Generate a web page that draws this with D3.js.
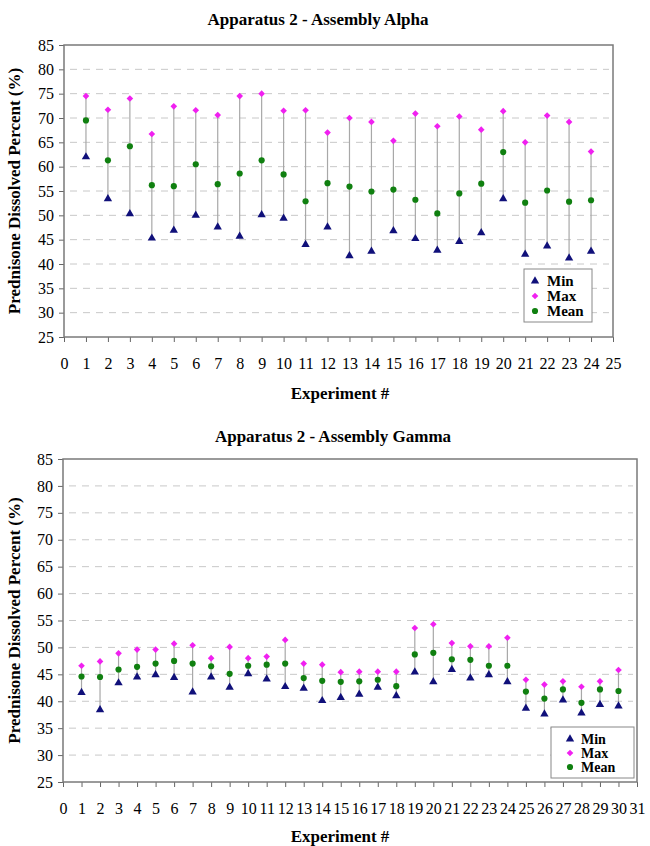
<!DOCTYPE html>
<html>
<head>
<meta charset="utf-8">
<script src="https://cdn.jsdelivr.net/npm/d3@7"></script>
<style>
  html, body { margin: 0; padding: 0; background: #fff; }
  svg { display: block; }
  svg text { font-family: "Liberation Serif", "DejaVu Serif", serif !important; fill: #000; }
</style>
</head>
<body>
<svg id="chart" width="650" height="846"></svg>
<script>
// ---------- data ----------
const yTicks = [25, 30, 35, 40, 45, 50, 55, 60, 65, 70, 75, 80, 85];
const seriesNames = ["Min", "Max", "Mean"];

const alphaTitle = "Apparatus 2 - Assembly Alpha";
const alphaExperiments = d3.range(1, 25);
const alphaXTicks = d3.range(0, 26);
const alphaMin  = [62.0, 53.4, 50.3, 45.3, 46.9, 50.0, 47.6, 45.7, 50.1, 49.4, 44.0, 47.6, 41.7, 42.6, 46.8, 45.2, 42.8, 44.6, 46.4, 53.4, 42.0, 43.7, 41.2, 42.6];
const alphaMax  = [74.5, 71.7, 74.0, 66.7, 72.4, 71.6, 70.6, 74.5, 75.0, 71.5, 71.6, 67.0, 70.0, 69.2, 65.3, 70.9, 68.3, 70.3, 67.6, 71.4, 65.0, 70.5, 69.2, 63.1];
const alphaMean = [69.5, 61.3, 64.2, 56.2, 56.0, 60.5, 56.4, 58.6, 61.3, 58.4, 52.9, 56.6, 55.9, 54.9, 55.3, 53.2, 50.4, 54.5, 56.5, 63.0, 52.6, 55.1, 52.8, 53.1];

const gammaTitle = "Apparatus 2 - Assembly Gamma";
const gammaExperiments = d3.range(1, 31);
const gammaXTicks = d3.range(0, 32);
const gammaMin  = [41.6, 38.4, 43.4, 44.5, 44.9, 44.4, 41.7, 44.5, 42.6, 45.1, 44.1, 42.7, 42.4, 40.1, 40.7, 41.3, 42.6, 41.0, 45.4, 43.6, 45.9, 44.3, 44.9, 43.6, 38.7, 37.6, 40.2, 37.8, 39.4, 39.1];
const gammaMax  = [46.6, 47.4, 48.9, 49.6, 49.6, 50.7, 50.4, 48.0, 50.1, 48.0, 48.3, 51.4, 47.0, 46.8, 45.4, 45.5, 45.5, 45.5, 53.6, 54.3, 50.8, 50.2, 50.2, 51.8, 44.0, 43.1, 43.7, 42.7, 43.7, 45.8];
const gammaMean = [44.6, 44.5, 45.9, 46.4, 47.0, 47.5, 47.0, 46.5, 45.1, 46.6, 46.8, 47.0, 44.3, 43.8, 43.6, 43.7, 44.0, 42.8, 48.7, 49.0, 47.8, 47.7, 46.6, 46.6, 41.8, 40.5, 42.2, 39.7, 42.2, 41.9];

const yLabel = "Prednisone Dissolved Percent (%)";
const xLabel = "Experiment #";

// ---------- styles ----------
const FONT = '"Liberation Serif", "DejaVu Serif", serif';
const colors = { Min: "#10107a", Max: "#f020f0", Mean: "#108010" };
const symbols = {
  Min: d3.symbol().type(d3.symbolTriangle).size(30),
  Max: d3.symbol().type(d3.symbolDiamond2).size(28),
  Mean: d3.symbol().type(d3.symbolCircle).size(30)
};

const svg = d3.select("#chart");

function drawChart(cfg) {
  const { title, experiments, xTicks, mins, maxs, means, box, titlePos, legend } = cfg;
  const g = svg.append("g").attr("font-family", FONT);
  const x = d3.scaleLinear().domain([0, xTicks[xTicks.length - 1]]).range([box.left, box.right]);
  const y = d3.scaleLinear().domain([25, 85]).range([box.bottom, box.top]);

  // title
  g.append("text").attr("x", titlePos[0]).attr("y", titlePos[1])
    .attr("text-anchor", "middle").attr("font-weight", "bold").attr("font-size", 17)
    .text(title);

  // gridlines
  g.append("g").selectAll("line").data(yTicks.filter(t => t !== 25 && t !== 85)).join("line")
    .attr("x1", box.left + 6).attr("x2", box.right - 4)
    .attr("y1", d => y(d)).attr("y2", d => y(d))
    .attr("stroke", "#c8c8c8").attr("stroke-width", 1).attr("stroke-dasharray", "7,6");

  // axes
  const yAxis = d3.axisLeft(y).tickValues(yTicks).tickSize(5).tickPadding(5);
  const ya = g.append("g").attr("transform", `translate(${box.left},0)`).call(yAxis);
  ya.attr("font-family", FONT);
  ya.select(".domain").remove();
  ya.selectAll(".tick line").attr("stroke", "#666");
  ya.selectAll(".tick text").attr("font-size", 16);

  const xAxis = d3.axisBottom(x).tickValues(xTicks).tickSize(5).tickPadding(16);
  const xa = g.append("g").attr("transform", `translate(0,${box.bottom})`).call(xAxis);
  xa.attr("font-family", FONT);
  xa.select(".domain").remove();
  xa.selectAll(".tick line").attr("stroke", "#666");
  xa.selectAll(".tick text").attr("font-size", 16);

  // plot border
  g.append("rect").attr("x", box.left).attr("y", box.top)
    .attr("width", box.right - box.left).attr("height", box.bottom - box.top)
    .attr("fill", "none").attr("stroke", "#7a7a7a").attr("stroke-width", 1.5);

  // axis titles
  g.append("text")
    .attr("transform", `translate(${box.yTitleX},${(box.top + box.bottom) / 2}) rotate(-90)`)
    .attr("text-anchor", "middle").attr("dominant-baseline", "middle")
    .attr("font-weight", "bold").attr("font-size", 17).text(yLabel);
  g.append("text").attr("x", box.xTitleX).attr("y", box.bottom + box.xTitleDy)
    .attr("text-anchor", "middle").attr("font-weight", "bold").attr("font-size", 17).text(xLabel);

  const rows = experiments.map((e, i) => ({ e, Min: mins[i], Max: maxs[i], Mean: means[i] }));

  // range lines
  g.append("g").selectAll("line").data(rows).join("line")
    .attr("x1", d => x(d.e)).attr("x2", d => x(d.e))
    .attr("y1", d => y(d.Min)).attr("y2", d => y(d.Max))
    .attr("stroke", "#a8a8a8").attr("stroke-width", 1.2);

  // markers
  ["Max", "Mean", "Min"].forEach(s => {
    g.append("g").selectAll("path").data(rows).join("path")
      .attr("d", symbols[s]())
      .attr("transform", d => `translate(${x(d.e)},${y(d[s])})`)
      .attr("fill", colors[s]);
  });

  // legend
  const lg = g.append("g");
  lg.append("rect").attr("x", legend.x).attr("y", legend.y)
    .attr("width", legend.w).attr("height", legend.h)
    .attr("fill", "#fff").attr("stroke", "#888").attr("stroke-width", 1);
  seriesNames.forEach((s, i) => {
    const cy = legend.firstRow + i * legend.step;
    lg.append("path").attr("d", symbols[s]())
      .attr("transform", `translate(${legend.symX},${cy})`).attr("fill", colors[s]);
    lg.append("text").attr("x", legend.textX).attr("y", cy)
      .attr("dominant-baseline", "central").attr("font-weight", "bold").attr("font-size", legend.fs)
      .text(s);
  });
}

drawChart({
  title: alphaTitle, experiments: alphaExperiments, xTicks: alphaXTicks,
  mins: alphaMin, maxs: alphaMax, means: alphaMean,
  box: { left: 64, right: 613, top: 45, bottom: 337, yTitleX: 16, xTitleX: 340, xTitleDy: 62 },
  titlePos: [318, 25],
  legend: { x: 524, y: 269, w: 68, h: 53, symX: 535, textX: 547, firstRow: 281, step: 15, fs: 15 }
});

drawChart({
  title: gammaTitle, experiments: gammaExperiments, xTicks: gammaXTicks,
  mins: gammaMin, maxs: gammaMax, means: gammaMean,
  box: { left: 63, right: 637, top: 459, bottom: 782, yTitleX: 16, xTitleX: 340, xTitleDy: 60 },
  titlePos: [333, 442],
  legend: { x: 551, y: 727, w: 83, h: 51, symX: 570, textX: 581, firstRow: 739, step: 14, fs: 14 }
});
</script>
</body>
</html>
